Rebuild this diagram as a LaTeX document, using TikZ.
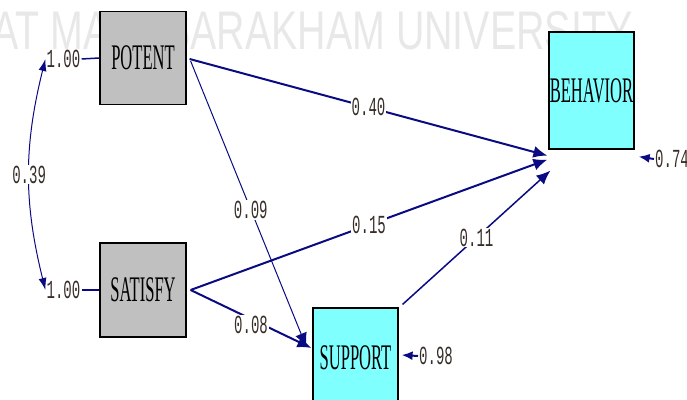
\documentclass[tikz,border=0pt]{standalone}
\usepackage{fontspec}
\setmainfont{Liberation Serif}
\newfontfamily\numfont{Liberation Mono}
\newfontfamily\markfont{Liberation Sans}
\usetikzlibrary{arrows.meta, calc, positioning}
\definecolor{pathblue}{RGB}{10, 10, 130}
\definecolor{latgray}{RGB}{192, 192, 192}
\definecolor{obscyan}{RGB}{128, 255, 255}
\definecolor{numtext}{RGB}{55, 45, 40}
\definecolor{markgray}{RGB}{232, 232, 232}
\newcommand{\boxlabel}[1]{\makebox[0pt][c]{\scalebox{0.46}[1]{\fontsize{36}{36}\selectfont #1}}}
\newcommand{\coef}[1]{\scalebox{0.54}[1]{\numfont\fontsize{26}{26}\selectfont #1}}

\begin{document}
\begin{tikzpicture}[x=1pt, y=1pt,
    latent/.style={rectangle, draw=black, line width=1.2pt, fill=latgray, minimum width=86pt, minimum height=93pt, inner sep=0pt},
    observed/.style={rectangle, draw=black, line width=1.2pt, fill=obscyan, minimum width=85pt, inner sep=0pt},
    coefnode/.style={fill=white, inner sep=1pt, text=numtext},
    effect/.style={-{Latex[length=14pt, width=12pt]}, line width=2pt, pathblue}]
    \useasboundingbox (0,0) rectangle (687,399);
    % watermark
    \node (mark) [anchor=west, text=markgray, inner sep=0pt] at (-8,368) {\resizebox{640pt}{38pt}{\markfont AT MAHASARAKHAM UNIVERSITY}};
    % variables
    \node (potent) [latent] at (143,341) {\boxlabel{POTENT}};
    \node (satisfy) [latent, minimum height=94pt] at (143,109) {\boxlabel{SATISFY}};
    \node (behavior) [observed, minimum height=117pt] at (591.5,308.5) {\boxlabel{BEHAVIOR}};
    \node (support) [observed, minimum height=100pt] at (355.5,41) {\boxlabel{SUPPORT}};
    % variances
    \node (vp) [coefnode] at (63.5,340) {\coef{1.00}};
    \node (vs) [coefnode] at (63.5,109) {\coef{1.00}};
    \draw [pathblue, line width=1.5pt] (vp.east) -- (potent.west);
    \draw [pathblue, line width=1.5pt] (vs.east) -- (satisfy.west);
    \draw [{Latex[length=12pt, width=8pt]}-{Latex[length=12pt, width=8pt]}, line width=1pt, pathblue] (vp.west) to[out=256, in=104] node[coefnode] {\coef{0.39}} (vs.west);
    % paths
    \draw [effect] ($(potent.east)+(3,-1)$) -- node[coefnode] {\coef{0.40}} ($(behavior.south west)+(-1,-6)$);
    \draw [effect, line width=1pt] ($(potent.east)+(4,-3)$) -- node[coefnode, pos=0.52] {\coef{0.09}} ($(support.west)+(-6,11)$);
    \draw [effect] ($(satisfy.east)+(4,0)$) -- node[coefnode] {\coef{0.15}} ($(behavior.south west)+(-1,-10)$);
    \draw [effect] ($(satisfy.east)+(4,0)$) -- node[coefnode, yshift=-6pt] {\coef{0.08}} ($(support.west)+(-1,10)$);
    \draw [effect, line width=1.5pt] ($(support.north east)+(4,3)$) -- node[coefnode] {\coef{0.11}} ($(behavior.south west)+(2,-21)$);
    % residuals
    \node (e74) [coefnode, anchor=west] at (654,240) {\coef{0.74}};
    \node (e98) [coefnode, anchor=west] at (418,43) {\coef{0.98}};
    \draw [effect, -{Latex[length=11pt, width=9pt]}] (e74.west) -- ($(behavior.south east)+(4,-7)$);
    \draw [effect, -{Latex[length=11pt, width=9pt]}] (e98.west) -- ($(support.east)+(3,3)$);
\end{tikzpicture}
\end{document}
